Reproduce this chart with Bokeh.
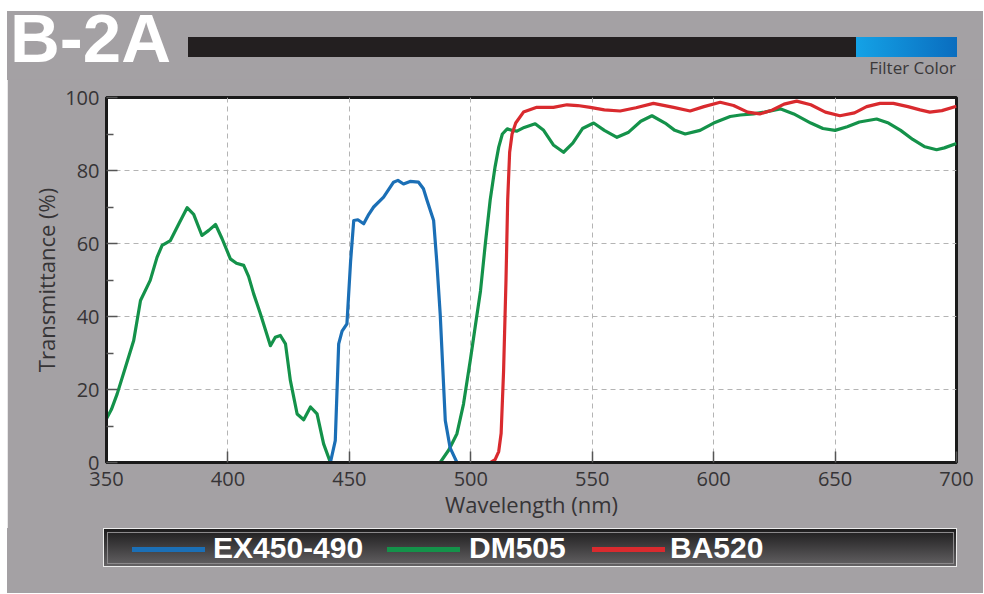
from bokeh.plotting import figure
from bokeh.layouts import column, row
from bokeh.models import Range1d, FixedTicker, Spacer, Div
from bokeh.embed import file_html
from bokeh.resources import INLINE

# ---------------- data ----------------
title_text = "B-2A"
filter_label = "Filter Color"
x_label = "Wavelength (nm)"
y_label = "Transmittance (%)"
x_ticks = [350, 400, 450, 500, 550, 600, 650, 700]
y_ticks = [0, 20, 40, 60, 80, 100]
y_minor = [10, 30, 50, 70, 90]

series_names = ["EX450-490", "DM505", "BA520"]
series_colors = ["#1b6fb6", "#14924a", "#d92a2e"]

ex_wl = [442.2, 444.2, 445.6, 447.0, 449.0, 450.5, 451.8, 453.5, 455.9, 458.0, 460.0,
         464.1, 468.2, 470.0, 472.3, 475.0, 478.5, 480.5, 482.0, 484.7, 486.0, 487.4,
         489.5, 491.5, 494.3]
ex_T = [0.0, 6.0, 32.5, 36.0, 38.0, 55.0, 66.3, 66.5, 65.4, 68.0, 70.0,
        72.7, 76.8, 77.3, 76.3, 77.0, 76.8, 75.0, 71.8, 66.3, 55.0, 40.7,
        11.5, 4.0, 0.0]

dm_wl1 = [349.6, 352.0, 354.4, 357.8, 361.2, 364.0, 368.0, 370.8, 372.9, 376.3, 379.8,
          383.2, 385.9, 389.3, 392.1, 394.9, 397.6, 401.0, 403.5, 406.5, 408.5, 410.6,
          413.4, 417.5, 419.5, 421.6, 423.7, 425.7, 428.5, 431.2, 434.0, 436.7, 439.4,
          442.2]
dm_T1 = [11.5, 14.5, 18.8, 26.1, 33.4, 44.4, 49.9, 56.2, 59.5, 60.8, 65.4,
         69.8, 68.0, 62.2, 63.6, 65.2, 61.3, 55.8, 54.6, 54.0, 51.0, 46.2,
         40.7, 32.0, 34.3, 34.8, 32.5, 22.5, 13.3, 11.7, 15.2, 13.3, 5.1,
         0.0]

dm_wl2 = [487.4, 491.0, 494.3, 497.0, 499.8, 502.0, 504.0, 506.0, 508.0, 510.0, 511.5,
          513.0, 515.0, 517.0, 519.0, 522.0, 526.5, 530.0, 534.0, 538.2, 542.0, 546.0,
          550.6, 555.0, 560.2, 565.0, 570.0, 574.6, 580.0, 584.0, 588.3, 594.4, 600.0,
          606.8, 611.0, 616.4, 621.0, 627.4, 633.0, 640.0, 645.0, 650.0, 655.0, 660.0,
          667.1, 672.0, 677.0, 682.0, 687.0, 691.8, 695.0, 700.0]
dm_T2 = [0.0, 3.5, 7.9, 16.0, 28.0, 38.0, 47.0, 60.0, 72.0, 81.0, 86.4,
         90.0, 91.4, 91.0, 90.8, 91.8, 92.8, 91.0, 87.0, 85.0, 87.5, 91.5,
         93.0, 91.0, 89.1, 90.5, 93.5, 95.0, 93.0, 91.0, 90.0, 91.0, 93.0,
         94.8, 95.2, 95.5, 96.0, 96.9, 95.5, 93.0, 91.5, 91.0, 92.0, 93.3,
         94.1, 93.0, 91.0, 88.5, 86.5, 85.7, 86.2, 87.4]

ba_wl = [505.0, 508.0, 510.0, 511.5, 512.5, 513.5, 514.5, 515.2, 516.0, 517.0, 518.5,
         521.7, 527.2, 534.0, 539.6, 544.0, 549.2, 555.0, 561.5, 568.0, 575.2, 583.5,
         590.3, 596.0, 602.7, 608.2, 614.0, 619.0, 624.0, 629.0, 634.2, 640.0, 646.0,
         652.0, 658.0, 663.0, 668.5, 674.0, 680.0, 685.0, 689.0, 694.0, 700.0]
ba_T = [0.0, 0.0, 0.8, 3.0, 8.0, 25.0, 50.0, 72.0, 85.0, 90.0, 93.0,
        96.0, 97.3, 97.3, 98.0, 97.8, 97.3, 96.6, 96.3, 97.2, 98.4, 97.3,
        96.3, 97.5, 98.7, 97.8, 96.0, 95.5, 96.5, 98.2, 99.0, 98.0, 96.0,
        95.0, 95.8, 97.5, 98.4, 98.4, 97.5, 96.6, 96.0, 96.4, 97.6]

# ---------------- styling ----------------
BG = "#a4a1a4"
TXT = "#363436"
PAGE_W = 983
OX, OY = 7, 11            # white page margin visible in the reference
W = PAGE_W - OX           # gray panel width
HEAD_H = 79               # header strip (incl. white top margin)
PLOT_H = 449              # main figure height
LEG_H = 65                # legend strip height

# ---------------- header (HTML strip) ----------------
header_html = f"""
<div style="position:relative;width:{PAGE_W}px;height:{HEAD_H}px;background:#ffffff;">
  <div style="position:absolute;left:{OX}px;top:{OY}px;width:{W}px;height:{HEAD_H - OY + 1}px;background:{BG};"></div>
  <span style="position:absolute;left:10px;top:0px;font-family:'Liberation Sans',sans-serif;font-size:69px;line-height:78px;font-weight:bold;color:#ffffff;white-space:nowrap;">{title_text}</span>
  <div style="position:absolute;left:188px;top:37px;width:668px;height:20px;background:#231f20;"></div>
  <div style="position:absolute;left:856px;top:37px;width:101px;height:20px;background:linear-gradient(to right,#14a2e6,#0a6dbf);"></div>
  <span style="position:absolute;right:{PAGE_W - 956}px;top:55.5px;font-family:'Open Sans',sans-serif;font-size:17px;line-height:23px;color:#3a383a;white-space:nowrap;">{filter_label}</span>
</div>
"""
header = Div(text=header_html, width=PAGE_W, height=HEAD_H, margin=(0, 0, 0, 0))

# ---------------- main plot ----------------
FL, FR, FTOP = 99, 27, 18
p = figure(width=W, height=PLOT_H, x_range=Range1d(350, 700), y_range=Range1d(0, 100),
           min_border_left=FL, min_border_right=FR, min_border_top=FTOP,
           min_border_bottom=PLOT_H - FTOP - 365,
           output_backend="svg", toolbar_location=None)
p.background_fill_color = "white"
p.border_fill_color = BG
p.outline_line_color = "#1a1a1a"
p.outline_line_width = 3

p.xaxis.ticker = FixedTicker(ticks=x_ticks)
p.yaxis.ticker = FixedTicker(ticks=y_ticks, minor_ticks=y_minor)
for ax in (p.xaxis[0], p.yaxis[0]):
    ax.axis_line_color = "#1a1a1a"
    ax.axis_line_width = 3
    ax.major_tick_in = 11
    ax.major_tick_out = 0
    ax.major_tick_line_color = "#555555"
    ax.major_tick_line_width = 1.5
    ax.minor_tick_in = 7
    ax.minor_tick_out = 0
    ax.minor_tick_line_color = "#555555"
    ax.minor_tick_line_width = 1.5
    ax.major_label_text_font = "Open Sans"
    ax.major_label_text_font_size = "20px"
    ax.major_label_text_color = TXT
    ax.axis_label_text_font = "Open Sans"
    ax.axis_label_text_font_size = "22px"
    ax.axis_label_text_font_style = "normal"
    ax.axis_label_text_color = TXT
p.xaxis.minor_tick_line_color = None
p.xaxis.axis_label = x_label
p.yaxis.axis_label = y_label
p.xaxis.major_label_standoff = 9
p.xaxis.axis_label_standoff = 0
p.yaxis.major_label_standoff = 7
p.yaxis.axis_label_standoff = 1

for g in (p.xgrid[0], p.ygrid[0]):
    g.grid_line_color = "#b4b4b4"
    g.grid_line_dash = "5 4"
    g.grid_line_width = 1

lw = 3.2
p.line(dm_wl1, dm_T1, line_color=series_colors[1], line_width=lw, line_join="round")
p.line(dm_wl2, dm_T2, line_color=series_colors[1], line_width=lw, line_join="round")
p.line(ba_wl, ba_T, line_color=series_colors[2], line_width=lw, line_join="round")
p.line(ex_wl, ex_T, line_color=series_colors[0], line_width=lw, line_join="round")

# ---------------- legend (HTML strip) ----------------
bar_left = [132, 387, 592]
text_left = [213, 469, 670]
items = ""
for i in range(len(series_names)):
    items += (f'<div style="position:absolute;left:{bar_left[i]}px;top:18.5px;width:73px;height:5px;'
              f'background:{series_colors[i]};"></div>')
    items += (f'<span style="position:absolute;left:{text_left[i]}px;top:2.6px;'
              f"font-family:'Liberation Sans',sans-serif;font-size:30px;line-height:34px;"
              f'font-weight:bold;color:#ffffff;white-space:nowrap;">{series_names[i]}</span>')
legend_html = f"""
<div style="position:relative;width:{PAGE_W}px;height:{LEG_H}px;background:#ffffff;">
  <div style="position:absolute;left:{OX}px;top:0px;width:{W}px;height:{LEG_H}px;background:{BG};"></div>
  <div style="position:absolute;left:103px;top:0px;width:854px;height:39px;box-sizing:border-box;border:1.5px solid #ececec;background:linear-gradient(to bottom,#1c1b1c,#646264);"></div>
  <div style="position:absolute;left:106.5px;top:3.5px;width:847px;height:32px;box-sizing:border-box;border:1px solid #8c8a8c;"></div>
  {items}
</div>
"""
legend = Div(text=legend_html, width=PAGE_W, height=LEG_H, margin=(0, 0, 0, 0))

layout = column(header,
                row(Spacer(width=OX, height=PLOT_H), p),
                legend)
open("out.html", "w").write(file_html(layout, INLINE))
